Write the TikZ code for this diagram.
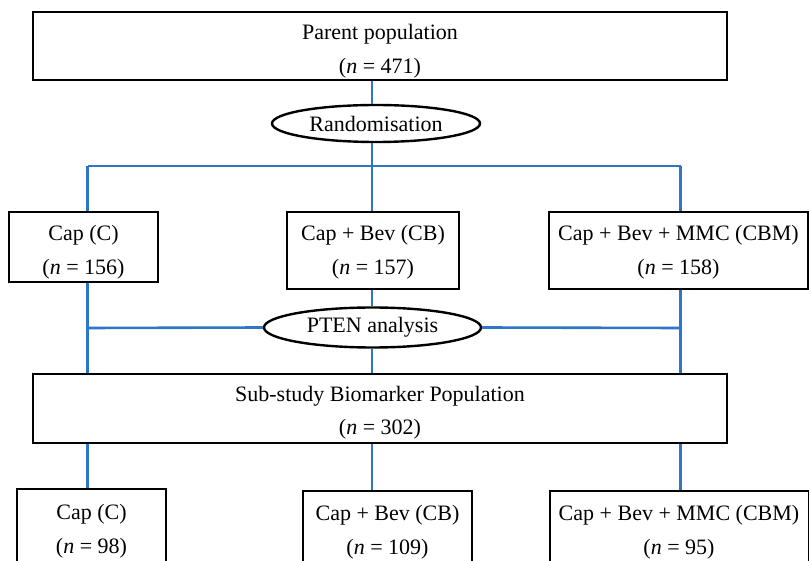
\documentclass[tikz,border=0pt]{standalone}
\usepackage{fontspec}
\setmainfont{Liberation Serif}
\usetikzlibrary{shapes.geometric}
\definecolor{linkblue}{RGB}{46,117,198}

\begin{document}
\begin{tikzpicture}[x=0.5pt,y=-0.5pt,
  every node/.style={font=\fontsize{11}{17}\selectfont, align=center},
  box/.style={draw=black, line width=1pt, inner xsep=0pt, inner ysep=0pt, anchor=base},
  oval/.style={ellipse, draw=black, line width=1.2pt, inner sep=0pt},
  link/.style={draw=linkblue, line width=1.3pt}]
\clip (0,0) rectangle (809,561);

\draw (380,74)    node (par)  [box, minimum width=347pt, text height=31pt, text depth=3pt] {Parent population\\(\textit{n} = 471)};
\draw (376,123.5) node (rand) [oval, minimum width=104pt, minimum height=18.5pt] {Randomisation};

\draw (83.5,275)  node (c1)   [box, minimum width=74.5pt, text height=31.5pt, text depth=3.5pt] {Cap (C)\\(\textit{n} = 156)};
\draw (373,275)   node (cb1)  [box, minimum width=86pt, text height=31.5pt, text depth=7pt] {Cap + Bev (CB)\\(\textit{n} = 157)};
\draw (678.5,275) node (cbm1) [box, minimum width=129.5pt, text height=31.5pt, text depth=7pt] {Cap + Bev + MMC (CBM)\\(\textit{n} = 158)};

\draw (372.5,327.5) node (pten) [oval, minimum width=108.5pt, minimum height=20pt] {PTEN analysis};

\draw (380,435)   node (sub)  [box, minimum width=347pt, text height=30.5pt, text depth=4pt] {Sub-study Biomarker Population\\(\textit{n} = 302)};

\draw (91.5,553)  node (c2)   [box, minimum width=74.5pt, text height=32pt, text depth=11pt] {Cap (C)\\(\textit{n} = 98)};
\draw (387.5,554) node (cb2)  [box, minimum width=84.5pt, text height=31.5pt, text depth=11pt] {Cap + Bev (CB)\\(\textit{n} = 109)};
\draw (679,554)   node (cbm2) [box, minimum width=129.5pt, text height=31.5pt, text depth=11pt] {Cap + Bev + MMC (CBM)\\(\textit{n} = 95)};

\coordinate (j1) at (87.5,166);
\coordinate (j2) at (372,166);
\coordinate (j3) at (680.5,166);
\coordinate (k1) at (87.5,328);
\coordinate (k3) at (680.5,328);

\draw[link] (j2 |- par.south) -- (j2 |- rand.north);
\draw[link] (j2 |- rand.south) -- (j2);
\draw[link] (j1) -- (j3);
\draw[link] (j1) -- (j1 |- c1.north);
\draw[link] (j2) -- (j2 |- cb1.north);
\draw[link] (j3) -- (j3 |- cbm1.north);

\draw[link] (j1 |- c1.south) -- (j1 |- sub.north);
\draw[link] (j3 |- cbm1.south) -- (j3 |- sub.north);
\draw[link] (j2 |- cb1.south) -- (j2 |- pten.north);
\draw[link] (j2 |- pten.south) -- (j2 |- sub.north);
\draw[link] (k1) -- (pten.west);
\draw[link] (pten.east) -- (k3);

\draw[link] (j1 |- sub.south) -- (j1 |- c2.north);
\draw[link] (j2 |- sub.south) -- (j2 |- cb2.north);
\draw[link] (j3 |- sub.south) -- (j3 |- cbm2.north);
\end{tikzpicture}
\end{document}
